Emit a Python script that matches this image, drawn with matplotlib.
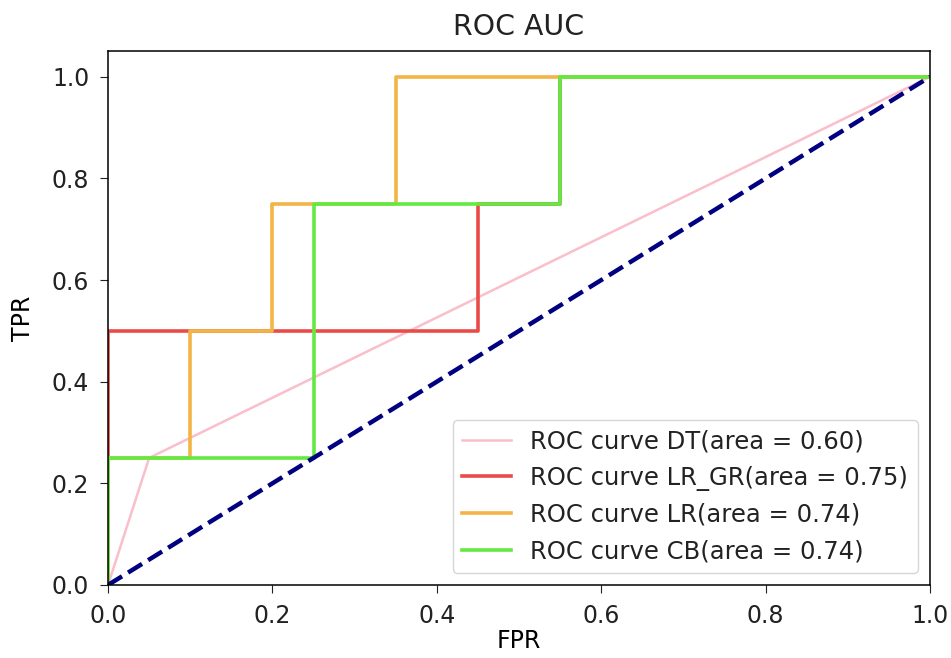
import matplotlib.pyplot as plt
import numpy as np

# ROC points
dt_fpr = [0.0, 0.05, 1.0]
dt_tpr = [0.0, 0.25, 1.0]

lrgr_fpr = [0.0, 0.0, 0.45, 0.45, 0.55, 0.55, 1.0]
lrgr_tpr = [0.0, 0.5, 0.5, 0.75, 0.75, 1.0, 1.0]

lr_fpr = [0.0, 0.0, 0.1, 0.1, 0.2, 0.2, 0.35, 0.35, 1.0]
lr_tpr = [0.0, 0.25, 0.25, 0.5, 0.5, 0.75, 0.75, 1.0, 1.0]

cb_fpr = [0.0, 0.0, 0.25, 0.25, 0.55, 0.55, 1.0]
cb_tpr = [0.0, 0.25, 0.25, 0.75, 0.75, 1.0, 1.0]

labels = ['ROC curve DT(area = 0.60)',
          'ROC curve LR_GR(area = 0.75)',
          'ROC curve LR(area = 0.74)',
          'ROC curve CB(area = 0.74)']

plt.rcParams['font.size'] = 17
plt.rcParams['axes.linewidth'] = 1.1
plt.rcParams['xtick.major.size'] = 5.5
plt.rcParams['ytick.major.size'] = 5.5
plt.rcParams['xtick.major.pad'] = 8
plt.rcParams['ytick.major.pad'] = 8
plt.rcParams['text.color'] = '#222222'
plt.rcParams['xtick.color'] = '#222222'
plt.rcParams['ytick.color'] = '#222222'

fig = plt.figure(figsize=(9.51, 6.58), dpi=100)
ax = fig.add_axes([0.1136, 0.111, 0.8644, 0.811])

ax.plot(dt_fpr, dt_tpr, color='#f9bfca', lw=1.8, label=labels[0])
ax.plot(lrgr_fpr, lrgr_tpr, color='#ea4b48', lw=2.6, label=labels[1])
ax.plot(lr_fpr, lr_tpr, color='#f4b445', lw=2.6, label=labels[2])
ax.plot(cb_fpr, cb_tpr, color='#62ea42', lw=2.6, label=labels[3])
ax.plot([0, 1], [0, 1], color='navy', lw=3.2, linestyle='--')

ax.set_xlim(0.0, 1.0)
ax.set_ylim(0.0, 1.05)
ax.set_xticks(np.arange(0, 1.01, 0.2))
ax.set_yticks(np.arange(0, 1.01, 0.2))
ax.set_xlabel('FPR', labelpad=1)
ax.set_ylabel('TPR', labelpad=12)
ax.set_title('ROC AUC', pad=12)
ax.legend(loc='lower right', fontsize=17.5)

fig.savefig('out.png', dpi=100)
